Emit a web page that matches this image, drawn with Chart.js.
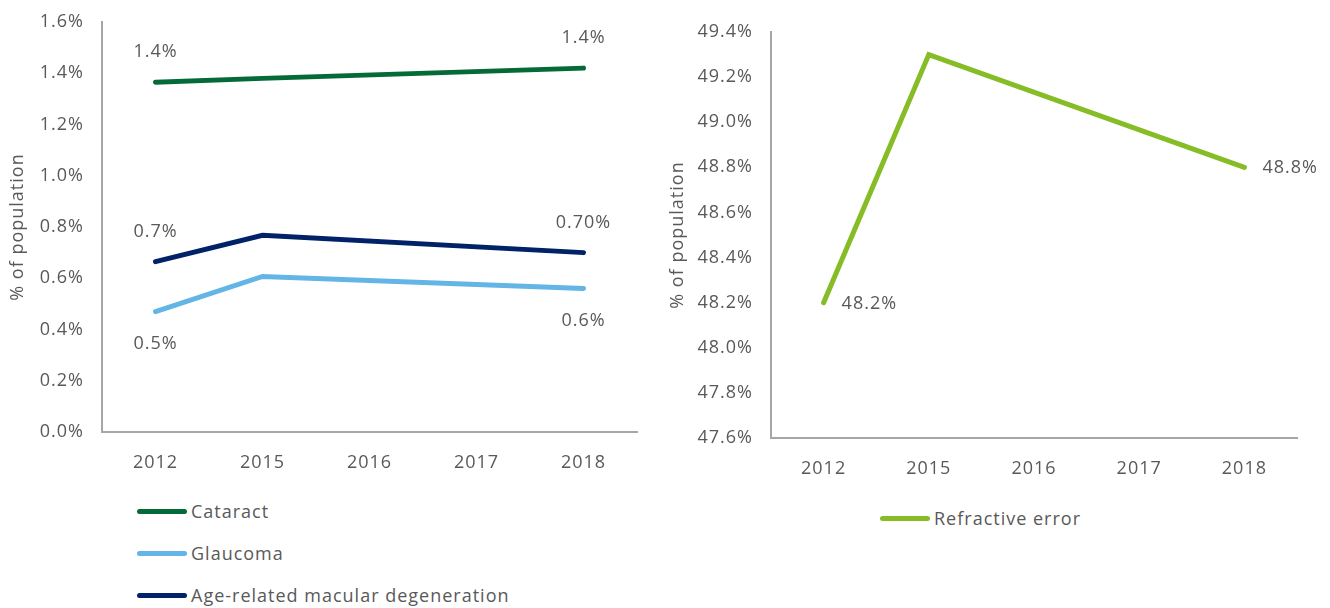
<!DOCTYPE html>
<html>
<head>
<meta charset="utf-8">
<script src="https://cdn.jsdelivr.net/npm/chart.js@4.4.1/dist/chart.umd.min.js"></script>
<style>
  html, body { margin: 0; padding: 0; background: #fff; }
  body { width: 1330px; height: 608px; position: relative; overflow: hidden; font-family: "Open Sans", sans-serif; }
  .panel { position: absolute; top: 0; }
  #leftPanel { left: 0; width: 660px; height: 482px; }
  #rightPanel { left: 660px; width: 670px; height: 488px; }
  .legend { position: absolute; margin: 0; padding: 0; list-style: none; color: #595959; font-size: 18px; letter-spacing: 1px; }
  .legend li { display: flex; align-items: center; height: 42px; }
  .legend .swatch { width: 50px; height: 5px; border-radius: 3px; margin-right: 4px; }
  #leftLegend { left: 137px; top: 490px; }
  #rightLegend { left: 880px; top: 497px; }
</style>
</head>
<body>
<div class="panel" id="leftPanel"><canvas id="leftChart"></canvas></div>
<div class="panel" id="rightPanel"><canvas id="rightChart"></canvas></div>
<ul class="legend" id="leftLegend"></ul>
<ul class="legend" id="rightLegend"></ul>
<script>
const years = ['2012', '2015', '2016', '2017', '2018'];

// % of population; no figures for 2016 and 2017
const cataract = [1.365, 1.38, null, null, 1.42];
const glaucoma = [0.47, 0.607, null, null, 0.56];
const macularDegeneration = [0.665, 0.768, null, null, 0.70];
const refractiveError = [48.2, 49.3, null, null, 48.8];

const leftTicks = [0, 1.6, 0.2];      // min, max, step
const rightTicks = [47.6, 49.4, 0.2];

const textColor = '#595959';
const axisColor = '#a6a6a6';
const fontFamily = '"Open Sans", sans-serif';
const fontSize = 18;

// slightly tracked-out text everywhere on the canvas
const spacing = {
    id: 'spacing',
    beforeDraw(chart) {
        chart.ctx.letterSpacing = '1px';
    }
};

// writes the value next to chosen points: [index, side, decimals]
const valueLabels = {
    id: 'valueLabels',
    afterDatasetsDraw(chart) {
        const ctx = chart.ctx;
        ctx.save();
        ctx.font = fontSize + 'px ' + fontFamily;
        ctx.fillStyle = textColor;
        chart.data.datasets.forEach((ds, i) => {
            const meta = chart.getDatasetMeta(i);
            (ds.valueLabels || []).forEach(([idx, side, digits]) => {
                const pt = meta.data[idx];
                const text = ds.data[idx].toFixed(digits) + '%';
                ctx.textBaseline = 'middle';
                if (side === 'right') {
                    ctx.textAlign = 'left';
                    ctx.fillText(text, pt.x + 18, pt.y + 1);
                } else {
                    ctx.textAlign = 'center';
                    ctx.fillText(text, pt.x, side === 'above' ? pt.y - 30 : pt.y + 32);
                }
            });
        });
        ctx.restore();
    }
};

function lineSet(label, data, color, labels) {
    return {
        label: label,
        data: data,
        borderColor: color,
        backgroundColor: color,
        borderWidth: 5,
        borderCapStyle: 'round',
        pointRadius: 0,
        pointHoverRadius: 0,
        spanGaps: true,
        tension: 0,
        valueLabels: labels
    };
}

function makeChart(canvasId, datasets, ticks, yWidth, pad) {
    return new Chart(document.getElementById(canvasId), {
        type: 'line',
        data: { labels: years, datasets: datasets },
        options: {
            responsive: true,
            maintainAspectRatio: false,
            animation: false,
            events: [],
            layout: { padding: pad },
            plugins: { legend: { display: false }, tooltip: { enabled: false } },
            scales: {
                x: {
                    offset: true,
                    grid: { display: false, drawTicks: false },
                    border: { display: true, color: axisColor, width: 2 },
                    ticks: { color: textColor, padding: 20, font: { family: fontFamily, size: fontSize } },
                    afterFit: (s) => { s.height = 50; }
                },
                y: {
                    min: ticks[0],
                    max: ticks[1],
                    grid: { display: false, drawTicks: false },
                    border: { display: true, color: axisColor, width: 2 },
                    ticks: {
                        stepSize: ticks[2],
                        color: textColor,
                        padding: 18,
                        font: { family: fontFamily, size: fontSize },
                        callback: (v) => v.toFixed(1) + '%'
                    },
                    title: {
                        display: true,
                        text: '% of population',
                        color: textColor,
                        padding: { top: 7, bottom: 0 },
                        font: { family: fontFamily, size: fontSize }
                    },
                    // fixed axis width; top/bottom room comes from layout padding only
                    afterFit: (s) => {
                        s.width = yWidth;
                        s.paddingTop = 0;
                        s.paddingBottom = 0;
                    }
                }
            }
        },
        plugins: [spacing, valueLabels]
    });
}

function buildLegend(listId, chart) {
    const list = document.getElementById(listId);
    chart.data.datasets.forEach((ds) => {
        const li = document.createElement('li');
        const sw = document.createElement('span');
        sw.className = 'swatch';
        sw.style.background = ds.borderColor;
        li.appendChild(sw);
        li.appendChild(document.createTextNode(ds.label));
        list.appendChild(li);
    });
}

const leftChart = makeChart('leftChart', [
    lineSet('Cataract', cataract, '#046A38', [[0, 'above', 1], [4, 'above', 1]]),
    lineSet('Glaucoma', glaucoma, '#62B5E5', [[0, 'below', 1], [4, 'below', 1]]),
    lineSet('Age-related macular degeneration', macularDegeneration, '#012169', [[0, 'above', 1], [4, 'above', 2]])
], leftTicks, 102, { top: 22, right: 23, bottom: 0, left: 0 });

const rightChart = makeChart('rightChart', [
    lineSet('Refractive error', refractiveError, '#86BC25', [[0, 'right', 1], [4, 'right', 1]])
], rightTicks, 111, { top: 32, right: 33, bottom: 0, left: 0 });

buildLegend('leftLegend', leftChart);
buildLegend('rightLegend', rightChart);
</script>
</body>
</html>
